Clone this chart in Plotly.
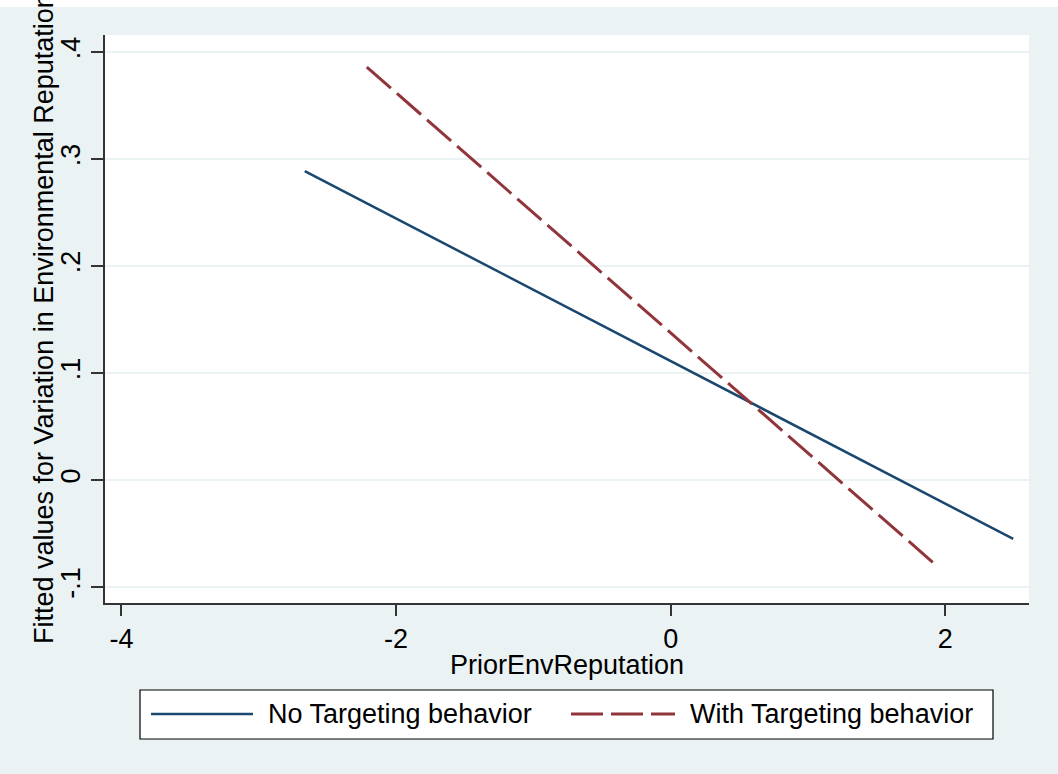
import plotly.graph_objects as go

# Data (fitted line endpoints)
no_target_x = [-2.665, 2.495]
no_target_y = [0.2888, -0.0551]
with_target_x = [-2.213, 1.94]
with_target_y = [0.386, -0.0804]

series_names = ["No Targeting behavior", "With Targeting behavior"]
x_ticks = [-4, -2, 0, 2]
y_ticks = [-0.1, 0, 0.1, 0.2, 0.3, 0.4]
y_tick_labels = ["-.1", "0", ".1", ".2", ".3", ".4"]
x_title = "PriorEnvReputation"
y_title = "Fitted values for Variation in Environmental Reputation"

BLUE = "#1a476f"
RED = "#90353b"
BG = "#eaf2f3"
FONT = "Liberation Sans, Arial, sans-serif"
FS = 27

W, H = 1058, 774
ML, MR, MT, MB = 105, 29, 35, 171
PW, PH = W - ML - MR, H - MT - MB

def px_x(p):
    return (p - ML) / PW

def px_y(p):
    return 1 - (p - MT) / PH

fig = go.Figure()
fig.add_trace(go.Scatter(x=no_target_x, y=no_target_y, mode="lines",
                         name=series_names[0], line=dict(color=BLUE, width=2.5),
                         showlegend=False))
fig.add_trace(go.Scatter(x=with_target_x, y=with_target_y, mode="lines",
                         name=series_names[1],
                         line=dict(color=RED, width=3, dash="32px,8px"),
                         showlegend=False))

shapes = [
    # white strip at the very top
    dict(type="rect", xref="paper", yref="paper", x0=px_x(0), x1=px_x(W),
         y0=px_y(0), y1=px_y(7), fillcolor="white", line=dict(width=0), layer="below"),
    # legend box
    dict(type="rect", xref="paper", yref="paper", x0=px_x(140), x1=px_x(993),
         y0=px_y(690), y1=px_y(739), fillcolor="white",
         line=dict(color="black", width=1.2), layer="above"),
    dict(type="line", xref="paper", yref="paper", x0=px_x(151), x1=px_x(253),
         y0=px_y(714), y1=px_y(714), line=dict(color=BLUE, width=2.5), layer="above"),
    dict(type="line", xref="paper", yref="paper", x0=px_x(571), x1=px_x(675),
         y0=px_y(714), y1=px_y(714), line=dict(color=RED, width=3, dash="32px,8px"),
         layer="above"),
]

annotations = [
    dict(text=series_names[0], xref="paper", yref="paper", x=px_x(266), y=px_y(714),
         xanchor="left", yanchor="middle", showarrow=False,
         font=dict(family=FONT, size=FS, color="black")),
    dict(text=series_names[1], xref="paper", yref="paper", x=px_x(688), y=px_y(714),
         xanchor="left", yanchor="middle", showarrow=False,
         font=dict(family=FONT, size=FS, color="black")),
    dict(text=x_title, xref="paper", yref="paper", x=0.5, y=px_y(665),
         xanchor="center", yanchor="middle", showarrow=False,
         font=dict(family=FONT, size=FS, color="black")),
    dict(text=y_title, xref="paper", yref="paper", x=px_x(44), y=0.5,
         xanchor="center", yanchor="middle", textangle=-90, showarrow=False,
         font=dict(family=FONT, size=FS, color="black")),
]

fig.update_layout(
    width=W, height=H,
    margin=dict(l=ML, r=MR, t=MT, b=MB, pad=0),
    paper_bgcolor=BG, plot_bgcolor="white",
    font=dict(family=FONT, size=FS, color="black"),
    shapes=shapes, annotations=annotations,
    showlegend=False,
)
fig.update_xaxes(
    range=[-4.12, 2.61], tickvals=x_ticks, ticktext=[str(v) for v in x_ticks],
    showgrid=False, zeroline=False, showline=True, linecolor="#333333", linewidth=1.5,
    ticks="outside", ticklen=11, tickwidth=1.5, tickcolor="#333333",
    tickfont=dict(size=FS),
)
fig.update_yaxes(
    range=[-0.115, 0.416], tickvals=y_ticks, ticktext=y_tick_labels, tickangle=-90,
    showgrid=True, gridcolor=BG, gridwidth=2, zeroline=False,
    showline=True, linecolor="#333333", linewidth=1.5,
    ticks="outside", ticklen=12, tickwidth=1.5, tickcolor="#333333",
    tickfont=dict(size=FS),
)

fig.write_html("out.html", config={"displayModeBar": False},
               post_script="document.body.style.margin='0';")
